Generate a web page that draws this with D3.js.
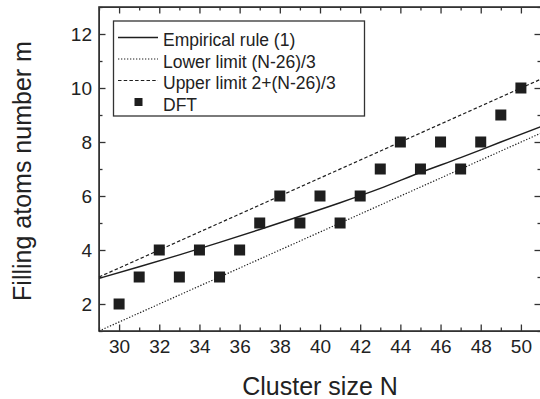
<!DOCTYPE html>
<html>
<head>
<meta charset="utf-8">
<style>
  body { margin: 0; background: #fff; }
  svg text { font-family: "Liberation Sans", Arial, sans-serif; fill: #222; }
  .axis path, .axis line { stroke: #333; }
</style>
</head>
<body>
<script src="https://cdn.jsdelivr.net/npm/d3@7"></script>
<script>
// DFT points
var dftN = [30, 31, 32, 33, 34, 35, 36, 37, 38, 39, 40, 41, 42, 43, 44, 45, 46, 47, 48, 49, 50];
var dftM = [2, 3, 4, 3, 4, 3, 4, 5, 6, 5, 6, 5, 6, 7, 8, 7, 8, 7, 8, 9, 10];

// empirical rule (1)
var ruleN = [29, 31, 33, 35, 37, 39, 41, 43, 45, 47, 49, 51];
var ruleM = [2.95, 3.38, 3.82, 4.28, 4.76, 5.25, 5.75, 6.28, 6.87, 7.42, 8.0, 8.57];

// limits, end points only (straight lines)
var lowN = [29, 51], lowM = [1, 8.33];
var upN = [29, 51], upM = [3, 10.33];

var xMajor = [30, 32, 34, 36, 38, 40, 42, 44, 46, 48, 50];
var xMinor = [29, 31, 33, 35, 37, 39, 41, 43, 45, 47, 49, 51];
var yMajor = [2, 4, 6, 8, 10, 12];
var yMinor = [1, 3, 5, 7, 9, 11, 13];

var legendLabels = ["Empirical rule (1)", "Lower limit (N-26)/3", "Upper limit 2+(N-26)/3", "DFT"];

var W = 540, H = 399;
var pL = 99, pR = 541, pT = 7, pB = 331;

var svg = d3.select("body").append("svg")
    .attr("width", W).attr("height", H);

var x = d3.scaleLinear().domain([29, 51]).range([pL, pR]);
var y = d3.scaleLinear().domain([1, 13]).range([pB, pT]);

var ink = "#1e1e1e";

// minor ticks (all four sides)
svg.append("g").attr("class", "axis").attr("transform", "translate(0," + pB + ")")
   .call(d3.axisBottom(x).tickValues(xMinor).tickSize(-3.5).tickFormat(""));
svg.append("g").attr("class", "axis").attr("transform", "translate(0," + pT + ")")
   .call(d3.axisTop(x).tickValues(xMinor).tickSize(-3.5).tickFormat(""));
svg.append("g").attr("class", "axis").attr("transform", "translate(" + pL + ",0)")
   .call(d3.axisLeft(y).tickValues(yMinor).tickSize(-3.5).tickFormat(""));
svg.append("g").attr("class", "axis").attr("transform", "translate(" + pR + ",0)")
   .call(d3.axisRight(y).tickValues(yMinor).tickSize(-3.5).tickFormat(""));

// major ticks
svg.append("g").attr("class", "axis").attr("transform", "translate(0," + pB + ")")
   .call(d3.axisBottom(x).tickValues(xMajor).tickSize(-6.5).tickPadding(9).tickFormat(d3.format("d")));
svg.append("g").attr("class", "axis").attr("transform", "translate(0," + pT + ")")
   .call(d3.axisTop(x).tickValues(xMajor).tickSize(-6.5).tickFormat(""));
svg.append("g").attr("class", "axis").attr("transform", "translate(" + pL + ",0)")
   .call(d3.axisLeft(y).tickValues(yMajor).tickSize(-6.5).tickPadding(7).tickFormat(d3.format("d")));
svg.append("g").attr("class", "axis").attr("transform", "translate(" + pR + ",0)")
   .call(d3.axisRight(y).tickValues(yMajor).tickSize(-6.5).tickFormat(""));

svg.selectAll(".axis line").attr("stroke-width", 1.3);
svg.selectAll(".axis path").attr("stroke", "none");
svg.selectAll(".axis text").attr("font-size", 19).attr("fill", "#222")
   .attr("font-family", "Liberation Sans, Arial, sans-serif");

// frame
svg.append("rect")
   .attr("x", pL).attr("y", pT)
   .attr("width", pR - pL).attr("height", pB - pT)
   .attr("fill", "none").attr("stroke", "#333").attr("stroke-width", 1.6);

// lines
var line = d3.line().x(d => x(d[0])).y(d => y(d[1]));
var plot = svg.append("g");

plot.append("path").datum(d3.zip(lowN, lowM))
   .attr("d", line).attr("fill", "none").attr("stroke", ink)
   .attr("stroke-width", 1.2).attr("stroke-dasharray", "1.3,1.7");
plot.append("path").datum(d3.zip(upN, upM))
   .attr("d", line).attr("fill", "none").attr("stroke", ink)
   .attr("stroke-width", 1.2).attr("stroke-dasharray", "3.5,2.2");
plot.append("path").datum(d3.zip(ruleN, ruleM))
   .attr("d", line.curve(d3.curveMonotoneX)).attr("fill", "none").attr("stroke", ink)
   .attr("stroke-width", 1.4);

var sq = 11;
plot.selectAll("rect.dft")
   .data(d3.zip(dftN, dftM))
   .join("rect")
   .attr("class", "dft")
   .attr("x", d => x(d[0]) - sq / 2)
   .attr("y", d => y(d[1]) - sq / 2)
   .attr("width", sq).attr("height", sq)
   .attr("fill", ink);

// legend
var lg = svg.append("g");
lg.append("rect").attr("x", 113.5).attr("y", 21).attr("width", 251).attr("height", 95)
  .attr("fill", "#fff").attr("stroke", "#333").attr("stroke-width", 1.3);
var dashes = [null, "1.3,1.7", "3.5,2.2"];
legendLabels.forEach(function(t, i) {
  var by = 46 + i * 21.5;
  if (i < 3) {
    lg.append("line").attr("x1", 118).attr("x2", 158)
      .attr("y1", by - 8.5).attr("y2", by - 8.5)
      .attr("stroke", ink).attr("stroke-width", i == 0 ? 1.4 : 1.2)
      .attr("stroke-dasharray", dashes[i]);
  } else {
    lg.append("rect").attr("x", 134.5).attr("y", by - 12.5)
      .attr("width", 8).attr("height", 8).attr("fill", ink);
  }
  lg.append("text").attr("x", 163).attr("y", by)
    .attr("font-size", 17.5).text(t);
});

// axis titles
svg.append("text").attr("x", (pL + pR) / 2).attr("y", 395)
   .attr("text-anchor", "middle").attr("font-size", 25).text("Cluster size N");
svg.append("text").attr("transform", "translate(31," + ((pT + pB) / 2 + 2) + ") rotate(-90)")
   .attr("text-anchor", "middle").attr("font-size", 25).text("Filling atoms number m");
</script>
</body>
</html>
